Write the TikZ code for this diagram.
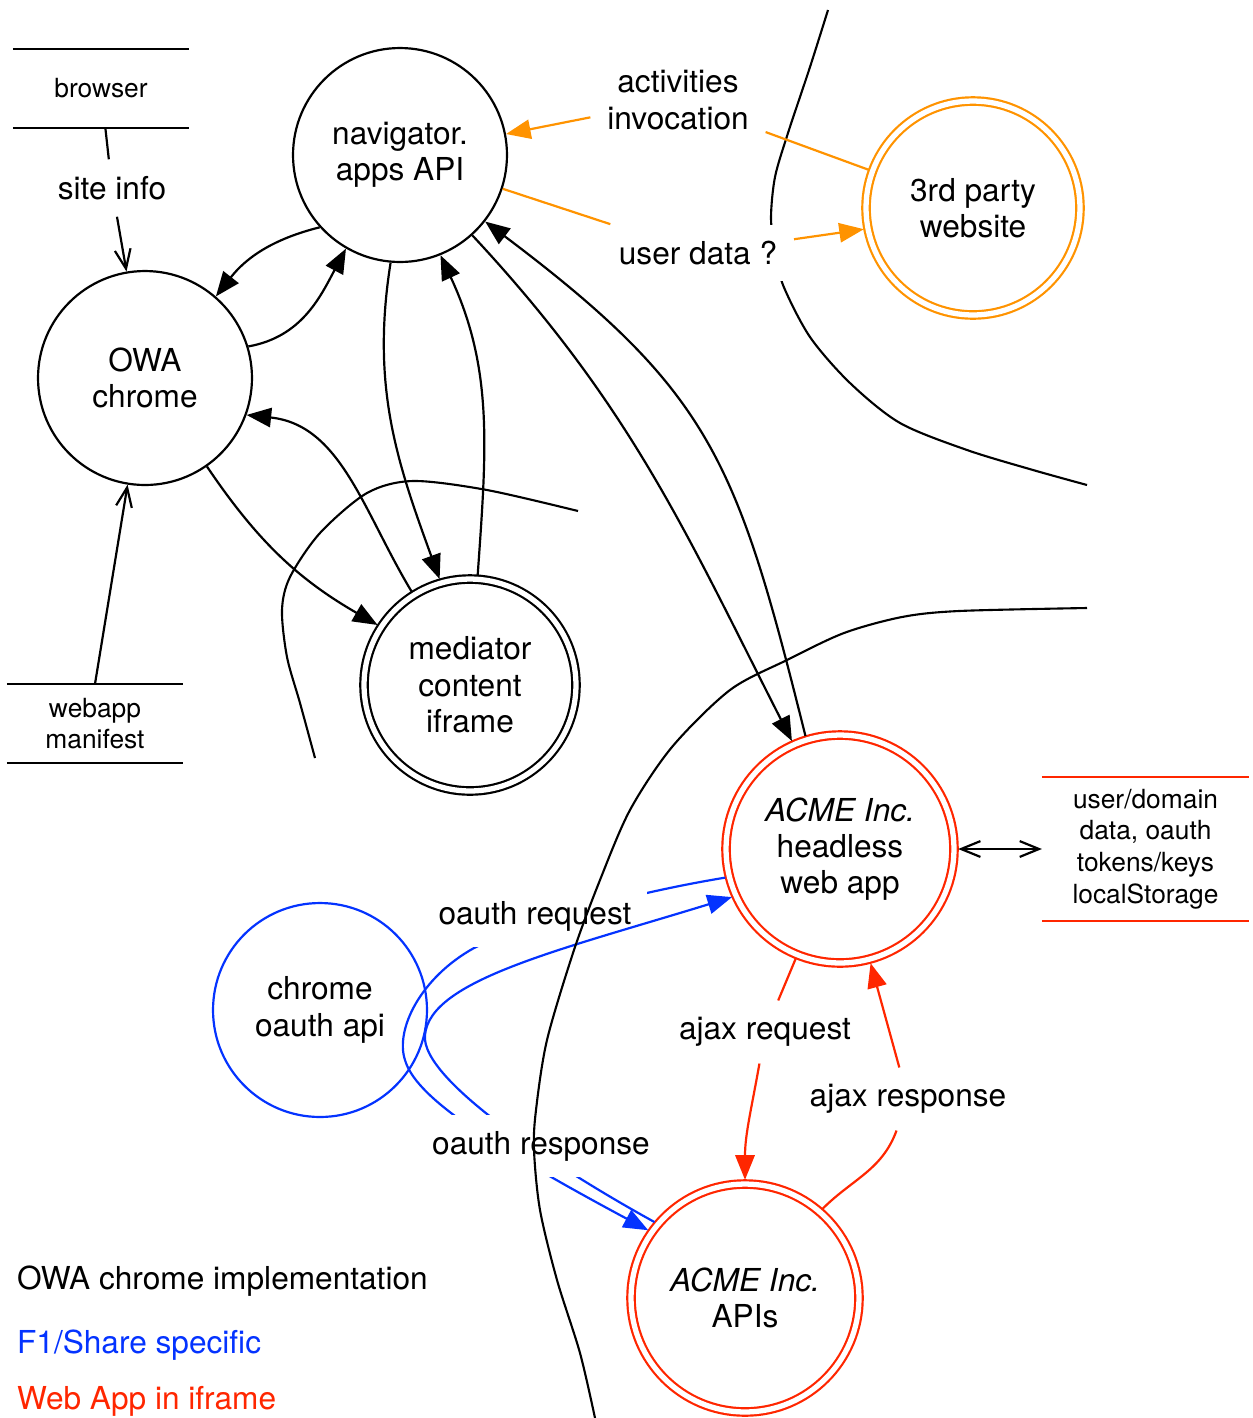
\documentclass[tikz,border=0pt]{standalone}
\usepackage{fontspec}
\setmainfont{TeX Gyre Heros}
\usetikzlibrary{arrows.meta}
\definecolor{acmered}{RGB}{255,38,0}
\definecolor{f1blue}{RGB}{4,51,255}
\definecolor{apporange}{RGB}{255,147,0}
\begin{document}
\begin{tikzpicture}[
      x=0.02cm, y=0.02cm, line width=1.25pt,
      every node/.style={font=\fontsize{18}{20.7}\selectfont, align=center},
      >={Straight Barb[length=11pt,width=9pt]},
      arr/.style={-{Triangle[length=14pt,width=11pt]}},
      proc/.style={circle, draw=#1, minimum size=4.28cm, inner sep=0pt},
      proc/.default=black,
      proc2/.style={circle, draw=#1, double, double distance=3pt, minimum size=4.24cm, inner sep=0pt, outer sep=2.4pt},
      proc2/.default=black,
      store/.style={minimum width=3.48cm, minimum height=1.54cm, inner sep=0pt,
            font=\fontsize{15}{18}\selectfont,
            append after command={(\tikzlastnode.north west) edge[draw=#1] (\tikzlastnode.north east)
                                  (\tikzlastnode.south west) edge[draw=#1] (\tikzlastnode.south east)}},
      store/.default=black,
      lbl/.style={fill=white, inner sep=9pt},
      legend/.style={anchor=west, inner sep=0pt, text=#1},
      border/.style={line width=1.2pt},
]
      \useasboundingbox (0,0) rectangle (1253,-1418);

      \draw[border] plot[smooth] coordinates {(828,-10) (810,-67) (788,-133) (775,-177) (771,-218) (775,-250) (783,-285)
            (810,-337) (850,-383) (900,-423) (967,-450) (1033,-470) (1087,-485)};

      \node[store] (browser) at (101,-88.5) {browser};
      \node[store] (manifest) at (95,-723.5) {webapp\\manifest};
      \node[store=acmered, minimum width=4.1cm, minimum height=2.84cm] (storage) at (1145.5,-849) {user/domain\\data, oauth\\tokens/keys\\localStorage};

      \node[proc] (nav) at (400,-155) {navigator.\\apps API};
      \node[proc] (owa) at (145,-378) {OWA\\chrome};
      \node[proc2] (med) at (470,-685) {mediator\\content\\iframe};
      \node[proc2=apporange, minimum size=4.28cm] (third) at (973,-208) {3rd party\\website};
      \node[proc2=acmered, minimum size=4.56cm] (webapp) at (840,-849) {\textit{ACME Inc.}\\headless\\web app};
      \node[proc2=acmered, minimum size=4.56cm] (apis) at (745,-1298) {\textit{ACME Inc.}\\APIs};
      \node[proc=f1blue] (chrome) at (320,-1010) {chrome\\oauth api};

      \node[lbl] (site) at (112,-188) {site info};
      \node[lbl] (act) at (678,-100) {activities\\invocation};
      \node[lbl] (ud) at (698,-253) {user data ?};
      \node[lbl] (ajreq) at (765,-1032) {ajax request};
      \node[lbl] (ajres) at (908,-1099) {ajax response};

      \draw[->] (browser) -- (site) -- (owa);
      \draw[->] (manifest.north) -- (owa);
      \draw[<->] (webapp) -- (storage);

      \draw[arr, apporange] (third) -- (act) -- (nav);
      \draw[arr, apporange] (nav) -- (ud) -- (third.191);

      \draw[arr] (nav.222) to[out=194,in=52] (owa.49);
      \draw[arr] (owa.17) to[out=10,in=242] (nav.240);
      \draw[arr] (nav.265) to[out=261,in=110] (med.106);
      \draw[arr] (med.86) to[out=86,in=295] (nav.292);
      \draw[arr] (owa.305) to[out=304,in=150] (med.147);
      \draw[arr] (med.122) to[out=121,in=354] (owa.340);
      \draw[arr] (nav.312) to[out=313,in=117] (webapp.114);
      \draw[arr] (webapp.107) to[out=104,in=323,looseness=1.2] (nav.322);

      \draw[arr, acmered] (webapp.248) -- (ajreq) to[out=260,in=90] (apis.north);
      \draw[arr, acmered] (apis.49) to[out=45,in=250] (ajres) -- (webapp.285);

      \draw[arr, f1blue] (webapp.194) .. controls (620,-895) and (520,-925) .. (474,-948)
            .. controls (420,-978) and (395,-1030) .. (405,-1060)
            .. controls (415,-1095) and (480,-1140) .. (apis.145);
      \node[lbl] (oreq) at (535,-916) {oauth request};
      \draw[arr, f1blue] (apis.140) .. controls (560,-1170) and (420,-1080) .. (425,-1035)
            .. controls (430,-980) and (560,-950) .. (webapp.204);
      \node[lbl] (ores) at (541,-1146) {oauth response};

      \draw[border] plot[smooth] coordinates {(578,-511) (487,-490) (413,-481) (367,-493) (320,-533) (290,-577)
            (282,-610) (287,-657) (300,-703) (315,-758)};
      \draw[border] plot[smooth] coordinates {(1087,-608) (959,-611) (902,-617) (844,-633) (787,-660) (730,-690)
            (672,-747) (630,-810) (600,-880) (574,-950) (547,-1040) (536,-1110) (534,-1150) (540,-1210)
            (557,-1280) (580,-1353) (595,-1418)};

      \node[legend=black] (leg1) at (16,-1281) {OWA chrome implementation};
      \node[legend=f1blue] (leg2) at (16,-1345) {F1/Share specific};
      \node[legend=acmered] (leg3) at (16,-1401) {Web App in iframe};
\end{tikzpicture}
\end{document}
